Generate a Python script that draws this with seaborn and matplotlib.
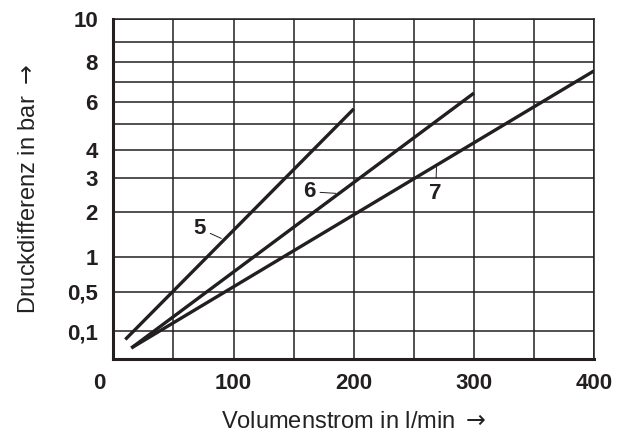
import numpy as np
import pandas as pd
import matplotlib
matplotlib.use("Agg")
import matplotlib.pyplot as plt
import matplotlib.transforms as mtransforms
import seaborn as sns

# ---------------- data ----------------
curve_names = ["5", "6", "7"]
flow_5 = [10, 200]
dp_5 = [0.07, 5.7]
flow_6 = [15, 300]
dp_6 = [0.04, 6.45]
flow_7 = [15, 400]
dp_7 = [0.04, 7.55]

x_tick_values = [0, 50, 100, 150, 200, 250, 300, 350, 400]
x_tick_labels = ["0", "", "100", "", "200", "", "300", "", "400"]
y_tick_values = [0.1, 0.5, 1, 2, 3, 4, 5, 6, 7, 8, 9, 10]
y_tick_labels = ["0,1", "0,5", "1", "2", "3", "4", "", "6", "", "8", "", "10"]

# non-linear pressure axis of the nomogram (value -> relative height)
scale_vals = np.array([0, 0.1, 0.5, 1, 2, 3, 4, 5, 6, 7, 8, 9, 10])
scale_pos = np.array([0, 28.3, 67.6, 102.3, 147.6, 181.6, 209.6, 235.0,
                      257.0, 277.6, 297.6, 317.6, 340.0])


def fwd(v):
    return np.interp(v, scale_vals, scale_pos)


def inv(p):
    return np.interp(p, scale_pos, scale_vals)


df = pd.concat([
    pd.DataFrame({"Volumenstrom": flow_5, "Druck": dp_5, "Kurve": curve_names[0]}),
    pd.DataFrame({"Volumenstrom": flow_6, "Druck": dp_6, "Kurve": curve_names[1]}),
    pd.DataFrame({"Volumenstrom": flow_7, "Druck": dp_7, "Kurve": curve_names[2]}),
], ignore_index=True)

# ---------------- style ----------------
sns.set_style("white")
plt.rcParams["font.family"] = ["Liberation Sans", "DejaVu Sans"]
plt.rcParams["mathtext.fontset"] = "dejavusans"
ink = "#231f20"

fig = plt.figure(figsize=(6.3, 4.36), dpi=100)
ax = fig.add_axes([0.1798, 0.1759, 0.7635, 0.7798])

ax.set_yscale("function", functions=(fwd, inv))

sns.lineplot(data=df, x="Volumenstrom", y="Druck", hue="Kurve",
             palette=[ink, ink, ink], estimator=None, sort=False,
             legend=False, linewidth=2.4, ax=ax, solid_capstyle="butt", zorder=3)

ax.set_xlim(0, 400)
ax.set_ylim(0, 10)

ax.set_xticks(x_tick_values)
ax.set_xticklabels(x_tick_labels)
ax.set_yticks(y_tick_values)
ax.set_yticklabels(y_tick_labels)
ax.minorticks_off()

ax.tick_params(axis="both", length=0, labelsize=16, colors=ink)
ax.tick_params(axis="x", pad=10)
ax.tick_params(axis="y", pad=11)
for lab in ax.get_xticklabels() + ax.get_yticklabels():
    lab.set_fontweight("bold")

# shift the "0" label to the left as in the reference
zero_lab = ax.get_xticklabels()[0]
zero_lab.set_transform(zero_lab.get_transform() +
                       mtransforms.ScaledTranslation(-0.14, 0, fig.dpi_scale_trans))

ax.grid(True, color=ink, linewidth=1.1)
ax.set_axisbelow(True)

for side in ["top", "right"]:
    ax.spines[side].set_linewidth(1.1)
    ax.spines[side].set_color(ink)
for side in ["left", "bottom"]:
    ax.spines[side].set_linewidth(2.2)
    ax.spines[side].set_color(ink)
    ax.spines[side].set_zorder(4)

ax.set_xlabel(r"Volumenstrom in l/min $\rightarrow$", fontsize=17, color="#222222")
ax.set_ylabel(r"Druckdifferenz in bar $\rightarrow$", fontsize=17, color="#222222")
ax.xaxis.set_label_coords(0.5, -0.153)
ax.yaxis.set_label_coords(-0.152, 0.5)

# curve labels with leader lines
ann_kw = dict(textcoords="offset points", fontsize=16, fontweight="bold",
              color=ink, ha="center", va="center",
              arrowprops=dict(arrowstyle="-", lw=0.7, color=ink, shrinkA=1, shrinkB=0))
ax.annotate(curve_names[0], xy=(89.8, 1.41), xytext=(-15.6, 7.2), **ann_kw)
ax.annotate(curve_names[1], xy=(185.1, 2.54), xytext=(-19.2, 1.2), **ann_kw)
ax.annotate(curve_names[2], xy=(268.8, 3.37), xytext=(-0.7, -18.7), **ann_kw)

fig.savefig("out.png", dpi=100)
